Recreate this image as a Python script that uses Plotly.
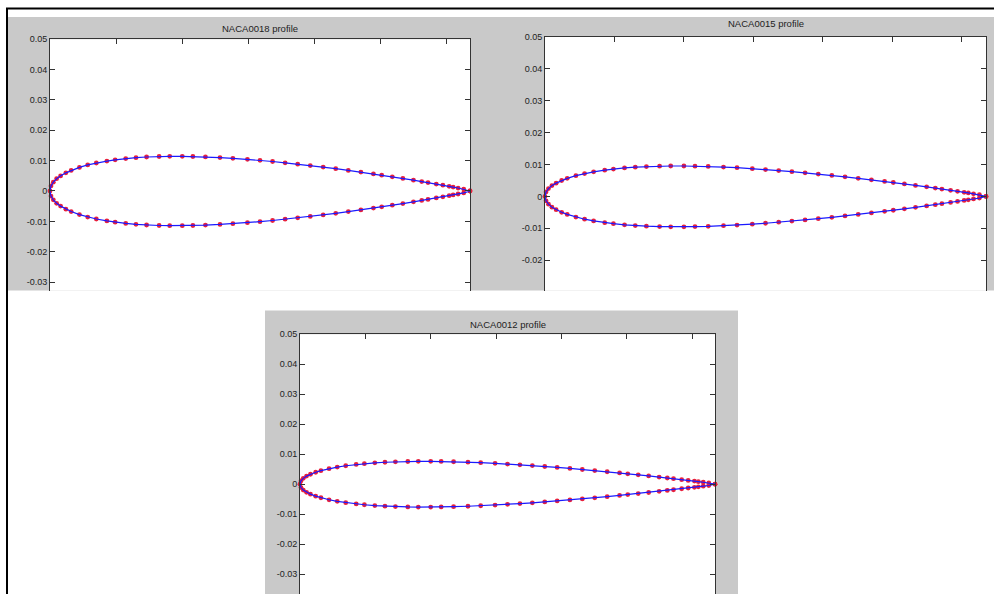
import plotly.graph_objects as go

# ---- data (chord 0.127 m) ----
x_stations = [0, 0.0003, 0.001, 0.002, 0.0032, 0.0048, 0.0064, 0.0089, 0.0114, 0.014,
              0.0172, 0.0197, 0.0229, 0.026, 0.0292, 0.033, 0.0362, 0.04, 0.0432, 0.047,
              0.0514, 0.0553, 0.0597, 0.0635, 0.0673, 0.0711, 0.0749, 0.0787, 0.0826, 0.0864,
              0.0902, 0.094, 0.0978, 0.1003, 0.1035, 0.1067, 0.1099, 0.1124, 0.1143, 0.1168,
              0.1188, 0.1207, 0.1219, 0.1234, 0.1251, 0.127]

naca0018_upper = [0, 0.00166, 0.00292, 0.00405, 0.00498, 0.00598, 0.00677, 0.00778, 0.00858, 0.00923,
                  0.00987, 0.01028, 0.01068, 0.01098, 0.0112, 0.01136, 0.01142, 0.01142, 0.01137, 0.01124,
                  0.01102, 0.01077, 0.01043, 0.01009, 0.00971, 0.00929, 0.00885, 0.00837, 0.00787, 0.00735,
                  0.00679, 0.00622, 0.00562, 0.00521, 0.00468, 0.00413, 0.00357, 0.00311, 0.00276, 0.00228,
                  0.00191, 0.00154, 0.00128, 0.00098, 0.00064, 0]
naca0018_lower = [0, -0.00166, -0.00292, -0.00405, -0.00498, -0.00598, -0.00677, -0.00778, -0.00858, -0.00923,
                  -0.00987, -0.01028, -0.01068, -0.01098, -0.0112, -0.01136, -0.01142, -0.01142, -0.01137, -0.01124,
                  -0.01102, -0.01077, -0.01043, -0.01009, -0.00971, -0.00929, -0.00885, -0.00837, -0.00787, -0.00735,
                  -0.00679, -0.00622, -0.00562, -0.00521, -0.00468, -0.00413, -0.00357, -0.00311, -0.00276, -0.00228,
                  -0.00191, -0.00154, -0.00128, -0.00098, -0.00064, 0]

naca0015_upper = [0, 0.00138, 0.00243, 0.00338, 0.00415, 0.00498, 0.00565, 0.00649, 0.00715, 0.00769,
                  0.00822, 0.00856, 0.0089, 0.00915, 0.00933, 0.00947, 0.00952, 0.00952, 0.00947, 0.00937,
                  0.00918, 0.00898, 0.00869, 0.00841, 0.00809, 0.00774, 0.00737, 0.00698, 0.00656, 0.00612,
                  0.00566, 0.00518, 0.00468, 0.00434, 0.0039, 0.00344, 0.00298, 0.00259, 0.0023, 0.0019,
                  0.00159, 0.00128, 0.00107, 0.00081, 0.00053, 0]
naca0015_lower = [0, -0.00138, -0.00243, -0.00338, -0.00415, -0.00498, -0.00565, -0.00649, -0.00715, -0.00769,
                  -0.00822, -0.00856, -0.0089, -0.00915, -0.00933, -0.00947, -0.00952, -0.00952, -0.00947, -0.00937,
                  -0.00918, -0.00898, -0.00869, -0.00841, -0.00809, -0.00774, -0.00737, -0.00698, -0.00656, -0.00612,
                  -0.00566, -0.00518, -0.00468, -0.00434, -0.0039, -0.00344, -0.00298, -0.00259, -0.0023, -0.0019,
                  -0.00159, -0.00128, -0.00107, -0.00081, -0.00053, 0]

naca0012_upper = [0, 0.00111, 0.00195, 0.0027, 0.00332, 0.00398, 0.00452, 0.00519, 0.00572, 0.00615,
                  0.00658, 0.00685, 0.00712, 0.00732, 0.00747, 0.00757, 0.00762, 0.00762, 0.00758, 0.00749,
                  0.00735, 0.00718, 0.00695, 0.00672, 0.00647, 0.0062, 0.0059, 0.00558, 0.00525, 0.0049,
                  0.00453, 0.00415, 0.00375, 0.00347, 0.00312, 0.00276, 0.00238, 0.00207, 0.00184, 0.00152,
                  0.00127, 0.00103, 0.00086, 0.00065, 0.00043, 0]
naca0012_lower = [0, -0.00111, -0.00195, -0.0027, -0.00332, -0.00398, -0.00452, -0.00519, -0.00572, -0.00615,
                  -0.00658, -0.00685, -0.00712, -0.00732, -0.00747, -0.00757, -0.00762, -0.00762, -0.00758, -0.00749,
                  -0.00735, -0.00718, -0.00695, -0.00672, -0.00647, -0.0062, -0.0059, -0.00558, -0.00525, -0.0049,
                  -0.00453, -0.00415, -0.00375, -0.00347, -0.00312, -0.00276, -0.00238, -0.00207, -0.00184, -0.00152,
                  -0.00127, -0.00103, -0.00086, -0.00065, -0.00043, 0]

titles = ["NACA0018 profile", "NACA0015 profile", "NACA0012 profile"]
ytick_vals = [0.05, 0.04, 0.03, 0.02, 0.01, 0, -0.01, -0.02, -0.03]
ytick_text = ["0.05", "0.04", "0.03", "0.02", "0.01", "0", "-0.01", "-0.02", "-0.03"]
xtick_vals = [0, 0.02, 0.04, 0.06, 0.08, 0.1, 0.12]

profiles = [(naca0018_upper, naca0018_lower),
            (naca0015_upper, naca0015_lower),
            (naca0012_upper, naca0012_lower)]

# ---- layout geometry (pixels of a 994x594 page) ----
W, H = 994, 594
def px(x):
    return x / W
def py(y):
    return 1 - y / H

panels = [
    dict(x0=50, x1=470, y0=34.5, y1=288, yr=[-0.0328, 0.05], ty=24),
    dict(x0=545, x1=986, y0=32, y1=288, yr=[-0.0295, 0.05], ty=19),
    dict(x0=300, x1=715, y0=332, y1=594, yr=[-0.0366, 0.05], ty=322),
]

fig = go.Figure()
font_family = "Liberation Sans, Arial, sans-serif"
layout = dict(width=W, height=H, margin=dict(l=0, r=0, t=0, b=0),
              paper_bgcolor="white", plot_bgcolor="white", showlegend=False,
              font=dict(family=font_family, size=9, color="#222"))

annotations = []
white_rects = []
for i, ((up, lo), p, title) in enumerate(zip(profiles, panels, titles)):
    n = "" if i == 0 else str(i + 1)
    xs = list(reversed(x_stations)) + x_stations[1:]
    ys = list(reversed(up)) + lo[1:]
    fig.add_trace(go.Scatter(x=xs, y=ys, mode="markers",
                             marker=dict(color="#e8203c", size=4.8, line=dict(width=0)),
                             xaxis="x" + n, yaxis="y" + n, cliponaxis=False, hoverinfo="skip"))
    fig.add_trace(go.Scatter(x=xs, y=ys, mode="lines",
                             line=dict(color="#1a1aff", width=1.2),
                             xaxis="x" + n, yaxis="y" + n, cliponaxis=False))
    layout["xaxis" + n] = dict(domain=[px(p["x0"]), px(p["x1"])], anchor="y" + n,
                               range=[0, 0.127], side="top", showgrid=False, zeroline=False,
                               showline=True, linecolor="#333", linewidth=1,
                               ticks="inside", ticklen=5, tickcolor="#333",
                               tickvals=xtick_vals, showticklabels=False, mirror=False)
    layout["yaxis" + n] = dict(domain=[py(p["y1"]), py(p["y0"])], anchor="x" + n,
                               range=p["yr"], showgrid=False, zeroline=False,
                               showline=True, linecolor="#333", linewidth=1, mirror="ticks",
                               ticks="inside", ticklen=5, tickcolor="#333",
                               tickvals=ytick_vals, ticktext=ytick_text,
                               tickfont=dict(size=9, color="#222"))
    annotations.append(dict(text=title, x=px((p["x0"] + p["x1"]) / 2), y=py(p["ty"]),
                            xref="paper", yref="paper", showarrow=False,
                            xanchor="center", yanchor="middle",
                            font=dict(size=9.5, color="#222", family=font_family)))
    white_rects.append(dict(type="rect", xref="paper", yref="paper",
                            x0=px(p["x0"]), x1=px(p["x1"]), y0=py(p["y1"]), y1=py(p["y0"]),
                            fillcolor="white", line=dict(width=0), layer="below"))

shapes = [
    dict(type="rect", xref="paper", yref="paper", x0=px(8), x1=1, y0=py(288), y1=py(12),
         fillcolor="#c9c9c9", line=dict(width=0), layer="below"),
    dict(type="rect", xref="paper", yref="paper", x0=px(265), x1=px(738), y0=0, y1=py(308),
         fillcolor="#c9c9c9", line=dict(width=0), layer="below"),
] + white_rects + [
    dict(type="line", xref="paper", yref="paper", x0=px(6), x1=1, y0=py(3.5), y1=py(3.5),
         line=dict(color="black", width=2)),
    dict(type="line", xref="paper", yref="paper", x0=px(7), x1=px(7), y0=0, y1=py(3),
         line=dict(color="black", width=2)),
]
layout["shapes"] = shapes
layout["annotations"] = annotations
fig.update_layout(**layout)

fig.write_html("out.html", config={"displayModeBar": False},
               post_script="document.body.style.margin='0';document.body.style.padding='0';"
                           "document.body.style.overflow='hidden';")
